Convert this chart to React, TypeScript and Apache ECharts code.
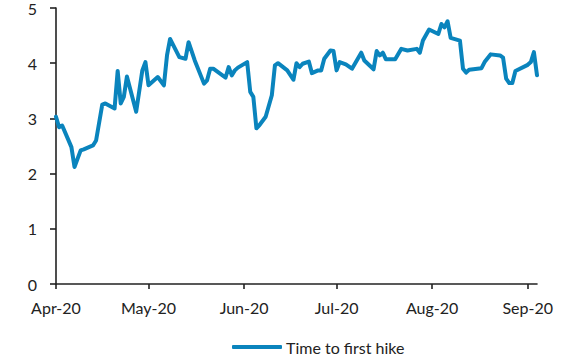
import React, { useEffect, useRef } from "react";
import * as echarts from "echarts";

const dayOffsets = [
  0, 1, 2, 5, 6, 8, 9, 12, 13, 15, 16, 19, 20, 21, 22, 23, 26, 28, 29, 30,
  33, 35, 36, 37, 40, 42, 43, 45, 48, 49, 50, 51, 55, 56, 57, 58, 59, 62, 63, 64,
  65, 66, 68, 70, 71, 72, 75, 77, 78, 79, 80, 82, 83, 85, 86, 87, 89, 90, 91, 92,
  94, 96, 99, 100, 103, 104, 105, 106, 107, 110, 112, 114, 117, 118, 119, 121, 124, 125, 126, 127,
  128, 131, 132, 133, 134, 138, 139, 141, 144, 145, 146, 147, 148, 149, 153, 154, 155, 156,
];
const hikeValues = [
  3.03, 2.84, 2.87, 2.48, 2.12, 2.42, 2.44, 2.51, 2.6, 3.25, 3.27, 3.18, 3.86, 3.27, 3.39, 3.76, 3.12, 3.87, 4.02, 3.6,
  3.75, 3.6, 4.14, 4.44, 4.11, 4.08, 4.38, 4.05, 3.63, 3.69, 3.9, 3.9, 3.74, 3.93, 3.78, 3.87, 3.92, 4.02, 3.48, 3.39,
  2.82, 2.88, 3.03, 3.42, 3.96, 4.0, 3.87, 3.7, 4.0, 3.93, 3.99, 4.03, 3.82, 3.87, 3.87, 4.08, 4.23, 4.22, 3.87, 4.02,
  3.98, 3.9, 4.19, 4.05, 3.89, 4.22, 4.14, 4.19, 4.07, 4.07, 4.26, 4.23, 4.26, 4.19, 4.41, 4.61, 4.53, 4.71, 4.65, 4.76,
  4.46, 4.41, 3.9, 3.83, 3.88, 3.91, 4.02, 4.16, 4.14, 4.1, 3.72, 3.64, 3.64, 3.86, 3.97, 4.02, 4.2, 3.78,
];
const startDate = "2020-04-01";
const endDate = "2020-09-04";
const monthNames = ["Jan", "Feb", "Mar", "Apr", "May", "Jun", "Jul", "Aug", "Sep", "Oct", "Nov", "Dec"];
const seriesName = "Time to first hike";

function buildDays(): string[] {
  const out: string[] = [];
  const d = new Date(startDate + "T00:00:00Z");
  const end = new Date(endDate + "T00:00:00Z");
  while (d.getTime() <= end.getTime()) {
    out.push(d.toISOString().slice(0, 10));
    d.setUTCDate(d.getUTCDate() + 1);
  }
  return out;
}

export default function App() {
  const ref = useRef<HTMLDivElement>(null);
  useEffect(() => {
    if (!ref.current) return;
    const chart = echarts.init(ref.current, null, { renderer: "svg" });
    const days = buildDays();
    const data = dayOffsets.map((o, i) => [o, hikeValues[i]]);
    const isMonthStart = (_i: number, v: string) => v.endsWith("-01");
    const font = "Lato, 'Noto Sans', sans-serif";
    const color = "#0a84bd";
    chart.setOption({
      animation: false,
      grid: { left: 56, right: 47, top: 7, bottom: 76, containLabel: false },
      legend: {
        data: [seriesName],
        left: 227,
        top: 334,
        icon: "roundRect",
        itemWidth: 50,
        itemHeight: 4,
        itemGap: 5,
        textStyle: { fontFamily: font, fontSize: 16, color: "#222", padding: [0, 0, 0, -1] },
      },
      xAxis: {
        type: "category",
        data: days,
        boundaryGap: false,
        axisLine: { lineStyle: { color: "#222", width: 1.6 } },
        axisTick: { show: true, interval: isMonthStart, length: 5, lineStyle: { color: "#222", width: 1.6 } },
        axisLabel: {
          interval: isMonthStart,
          margin: 15,
          fontFamily: font,
          fontSize: 16,
          color: "#222",
          formatter: (v: string) => monthNames[parseInt(v.slice(5, 7), 10) - 1] + "-" + v.slice(2, 4),
        },
        splitLine: { show: false },
      },
      yAxis: {
        type: "value",
        min: 0,
        max: 5,
        interval: 1,
        axisLine: { show: true, lineStyle: { color: "#222", width: 1.6 } },
        axisTick: { show: true, length: 6, lineStyle: { color: "#222", width: 1.6 } },
        axisLabel: { margin: 19, fontFamily: font, fontSize: 16, color: "#222" },
        splitLine: { show: false },
      },
      series: [
        {
          name: seriesName,
          type: "line",
          data,
          symbol: "none",
          lineStyle: { color, width: 4, join: "round", cap: "round" },
          itemStyle: { color },
        },
      ],
    });
    return () => chart.dispose();
  }, []);
  return <div ref={ref} style={{ width: 584, height: 360, position: "absolute", left: 0, top: 0 }} />;
}
